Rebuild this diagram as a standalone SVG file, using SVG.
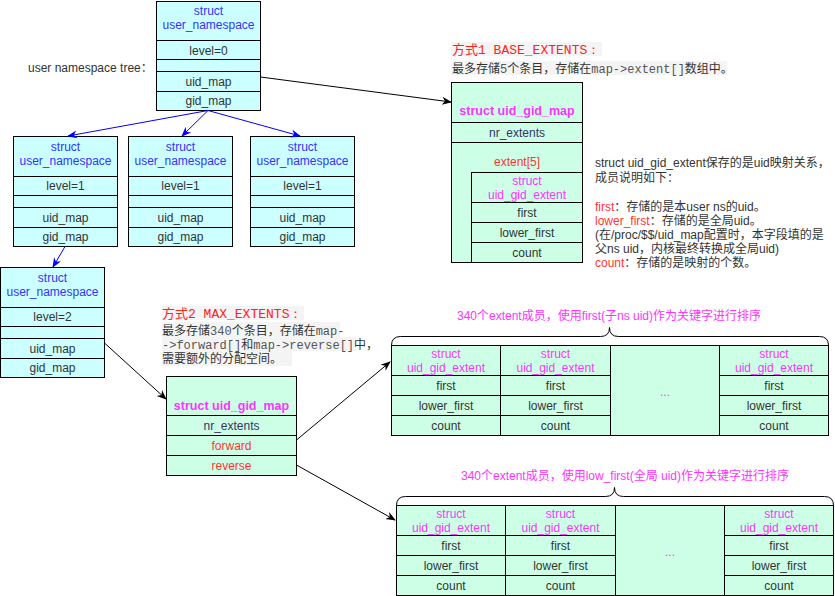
<svg xmlns="http://www.w3.org/2000/svg" width="835" height="596" viewBox="0 0 835 596">
<style>
text{font-family:"Liberation Sans","Noto Sans CJK SC",Arial,sans-serif;font-size:12px;fill:#333333}
.c{text-anchor:middle}
.ns{fill:#ccffff;stroke:#000;stroke-width:1}
.mp{fill:#ccffe6;stroke:#000;stroke-width:1}
.hb{fill:#3333ff}
.mg{fill:#ff33ff}
.rd{fill:#ff3333}
.nr{fill:#333366}
.b{font-weight:bold;font-size:12.5px}
.mono{font-family:"Liberation Mono","DejaVu Sans Mono",monospace}
.cb{fill:#f4f4f4}
.t{font-size:13px}
.ln{fill:none;stroke:#000;stroke-width:1}
.bl{fill:none;stroke:#0000ff;stroke-width:1}
.br{fill:none;stroke:#000;stroke-width:1}
</style>
<defs>
<marker id="ak" markerUnits="userSpaceOnUse" markerWidth="10" markerHeight="10" viewBox="0 0 10 10" refX="9" refY="5" orient="auto"><path d="M0,1 L10,5 L0,9 L3,5 z" fill="#000"/></marker>
<marker id="ab" markerUnits="userSpaceOnUse" markerWidth="10" markerHeight="10" viewBox="0 0 10 10" refX="9" refY="5" orient="auto"><path d="M0,1 L10,5 L0,9 L3,5 z" fill="#0000ff"/></marker>
</defs>

<text x="28" y="72">user namespace tree：</text>

<g id="ns0">
<rect class="ns" x="156.5" y="1.5" width="104" height="39"/>
<rect class="ns" x="156.5" y="40.5" width="104" height="19"/>
<rect class="ns" x="156.5" y="59.5" width="104" height="12"/>
<rect class="ns" x="156.5" y="71.5" width="104" height="20"/>
<rect class="ns" x="156.5" y="91.5" width="104" height="19"/>
<text class="c hb" x="208.5" y="15">struct</text>
<text class="c hb" x="208.5" y="29">user_namespace</text>
<text class="c" x="208.5" y="54.5">level=0</text>
<text class="c" x="208.5" y="85.5">uid_map</text>
<text class="c" x="208.5" y="105">gid_map</text>
</g>

<g id="ns1a">
<rect class="ns" x="13.5" y="136.5" width="104" height="40"/>
<rect class="ns" x="13.5" y="176.5" width="104" height="19"/>
<rect class="ns" x="13.5" y="195.5" width="104" height="12"/>
<rect class="ns" x="13.5" y="207.5" width="104" height="20"/>
<rect class="ns" x="13.5" y="227.5" width="104" height="19"/>
<text class="c hb" x="65.5" y="151">struct</text>
<text class="c hb" x="65.5" y="165">user_namespace</text>
<text class="c" x="65.5" y="190">level=1</text>
<text class="c" x="65.5" y="221.5">uid_map</text>
<text class="c" x="65.5" y="241">gid_map</text>
</g>

<g id="ns1b">
<rect class="ns" x="128.5" y="136.5" width="104" height="40"/>
<rect class="ns" x="128.5" y="176.5" width="104" height="19"/>
<rect class="ns" x="128.5" y="195.5" width="104" height="12"/>
<rect class="ns" x="128.5" y="207.5" width="104" height="20"/>
<rect class="ns" x="128.5" y="227.5" width="104" height="19"/>
<text class="c hb" x="180.5" y="151">struct</text>
<text class="c hb" x="180.5" y="165">user_namespace</text>
<text class="c" x="180.5" y="190">level=1</text>
<text class="c" x="180.5" y="221.5">uid_map</text>
<text class="c" x="180.5" y="241">gid_map</text>
</g>

<g id="ns1c">
<rect class="ns" x="250.5" y="136.5" width="104" height="40"/>
<rect class="ns" x="250.5" y="176.5" width="104" height="19"/>
<rect class="ns" x="250.5" y="195.5" width="104" height="12"/>
<rect class="ns" x="250.5" y="207.5" width="104" height="20"/>
<rect class="ns" x="250.5" y="227.5" width="104" height="19"/>
<text class="c hb" x="302.5" y="151">struct</text>
<text class="c hb" x="302.5" y="165">user_namespace</text>
<text class="c" x="302.5" y="190">level=1</text>
<text class="c" x="302.5" y="221.5">uid_map</text>
<text class="c" x="302.5" y="241">gid_map</text>
</g>

<g id="ns2">
<rect class="ns" x="0.5" y="267.5" width="104" height="40"/>
<rect class="ns" x="0.5" y="307.5" width="104" height="19"/>
<rect class="ns" x="0.5" y="326.5" width="104" height="12"/>
<rect class="ns" x="0.5" y="338.5" width="104" height="20"/>
<rect class="ns" x="0.5" y="358.5" width="104" height="19"/>
<text class="c hb" x="52.5" y="282">struct</text>
<text class="c hb" x="52.5" y="296">user_namespace</text>
<text class="c" x="52.5" y="321">level=2</text>
<text class="c" x="52.5" y="352.5">uid_map</text>
<text class="c" x="52.5" y="372">gid_map</text>
</g>

<g id="note1">
<rect class="cb" x="451" y="42" width="151" height="14"/>
<rect class="cb" x="451" y="61" width="276" height="14"/>
<text class="t" x="452" y="54" fill="#ff2222" style="fill:#ff2222">方式<tspan class="mono" style="fill:#ff2222">1 BASE_EXTENTS：</tspan></text>
<text x="452" y="72.5">最多存储<tspan class="mono" style="fill:#555">5</tspan>个条目，存储在<tspan class="mono" style="fill:#555">map-&gt;extent[]</tspan>数组中。</text>
</g>

<g id="map1">
<rect class="mp" x="451.5" y="82.5" width="131" height="40"/>
<rect class="mp" x="451.5" y="122.5" width="131" height="20"/>
<rect class="mp" x="451.5" y="142.5" width="131" height="120"/>
<text class="c mg b" x="517" y="114.5">struct uid_gid_map</text>
<text class="c nr" x="517" y="136.5">nr_extents</text>
<text class="c rd" x="517" y="165.5">extent[5]</text>
<g id="ext5">
<rect class="mp" x="471.5" y="172.5" width="111" height="30"/>
<rect class="mp" x="471.5" y="202.5" width="111" height="20"/>
<rect class="mp" x="471.5" y="222.5" width="111" height="20"/>
<rect class="mp" x="471.5" y="242.5" width="111" height="20"/>
<text class="c mg" x="527" y="185">struct</text>
<text class="c mg" x="527" y="199">uid_gid_extent</text>
<text class="c" x="527" y="216.5">first</text>
<text class="c" x="527" y="236.5">lower_first</text>
<text class="c" x="527" y="256.5">count</text>
</g>
</g>

<g id="desc">
<text x="595" y="167">struct uid_gid_extent保存的是uid映射关系，</text>
<text x="595" y="182">成员说明如下：</text>
<text x="595" y="210.5"><tspan class="rd">first</tspan>：存储的是本user ns的uid。</text>
<text x="595" y="225"><tspan class="rd">lower_first</tspan>：存储的是全局uid。</text>
<text x="595" y="239">(在/proc/$$/uid_map配置时，本字段填的是</text>
<text x="595" y="253">父ns uid，内核最终转换成全局uid)</text>
<text x="595" y="267"><tspan class="rd">count</tspan>：存储的是映射的个数。</text>
</g>

<g id="note2">
<rect class="cb" x="162" y="306" width="142" height="14"/>
<rect class="cb" x="162" y="322" width="178" height="15"/>
<rect class="cb" x="162" y="337" width="194" height="14"/>
<rect class="cb" x="162" y="351" width="130" height="15"/>
<text class="t" x="162" y="318" style="fill:#ff2222">方式<tspan class="mono" style="fill:#ff2222">2 MAX_EXTENTS：</tspan></text>
<text x="162" y="334.5">最多存储<tspan class="mono" style="fill:#555">340</tspan>个条目，存储在<tspan class="mono" style="fill:#555">map-</tspan></text>
<text x="162" y="348.5"><tspan class="mono" style="fill:#555">-&gt;forward[]</tspan>和<tspan class="mono" style="fill:#555">map-&gt;reverse[]</tspan>中，</text>
<text x="162" y="363">需要额外的分配空间。</text>
</g>

<g id="map2">
<rect class="mp" x="166.5" y="376.5" width="130" height="39"/>
<rect class="mp" x="166.5" y="415.5" width="130" height="20"/>
<rect class="mp" x="166.5" y="435.5" width="130" height="20"/>
<rect class="mp" x="166.5" y="455.5" width="130" height="20"/>
<text class="c mg b" x="231.5" y="409.5">struct uid_gid_map</text>
<text class="c nr" x="231.5" y="429.5">nr_extents</text>
<text class="c rd" x="231.5" y="449.5">forward</text>
<text class="c rd" x="231.5" y="469.5">reverse</text>
</g>

<g id="forwardArray">
<text class="c mg" x="609" y="320">340个extent成员，使用first(子ns uid)作为关键字进行排序</text>
<path class="br" d="M391.5,345.5 Q391.5,336.5 400.5,336.5 L600.5,336.5 Q609.5,336.5 609.5,327.5 Q609.5,336.5 618.5,336.5 L819.5,336.5 Q828.5,336.5 828.5,345.5"/>
<g id="f1">
<rect class="mp" x="391.5" y="345.5" width="109" height="30"/>
<rect class="mp" x="391.5" y="375.5" width="109" height="20"/>
<rect class="mp" x="391.5" y="395.5" width="109" height="20"/>
<rect class="mp" x="391.5" y="415.5" width="109" height="20"/>
<text class="c mg" x="446" y="358">struct</text>
<text class="c mg" x="446" y="372">uid_gid_extent</text>
<text class="c" x="446" y="389.5">first</text>
<text class="c" x="446" y="409.5">lower_first</text>
<text class="c" x="446" y="429.5">count</text>
</g>
<g id="f2">
<rect class="mp" x="500.5" y="345.5" width="110" height="30"/>
<rect class="mp" x="500.5" y="375.5" width="110" height="20"/>
<rect class="mp" x="500.5" y="395.5" width="110" height="20"/>
<rect class="mp" x="500.5" y="415.5" width="110" height="20"/>
<text class="c mg" x="555.5" y="358">struct</text>
<text class="c mg" x="555.5" y="372">uid_gid_extent</text>
<text class="c" x="555.5" y="389.5">first</text>
<text class="c" x="555.5" y="409.5">lower_first</text>
<text class="c" x="555.5" y="429.5">count</text>
</g>
<g id="f3">
<rect class="mp" x="610.5" y="345.5" width="109" height="90"/>
<text class="c mg" x="665" y="396">...</text>
</g>
<g id="f4">
<rect class="mp" x="719.5" y="345.5" width="109" height="30"/>
<rect class="mp" x="719.5" y="375.5" width="109" height="20"/>
<rect class="mp" x="719.5" y="395.5" width="109" height="20"/>
<rect class="mp" x="719.5" y="415.5" width="109" height="20"/>
<text class="c mg" x="774" y="358">struct</text>
<text class="c mg" x="774" y="372">uid_gid_extent</text>
<text class="c" x="774" y="389.5">first</text>
<text class="c" x="774" y="409.5">lower_first</text>
<text class="c" x="774" y="429.5">count</text>
</g>
</g>

<g id="reverseArray">
<text class="c mg" x="625" y="480">340个extent成员，使用low_first(全局 uid)作为关键字进行排序</text>
<path class="br" d="M396.5,505.5 Q396.5,496.5 405.5,496.5 L605.5,496.5 Q614.5,496.5 614.5,487.5 Q614.5,496.5 623.5,496.5 L824.5,496.5 Q833.5,496.5 833.5,505.5"/>
<g id="r1">
<rect class="mp" x="396.5" y="505.5" width="109" height="30"/>
<rect class="mp" x="396.5" y="535.5" width="109" height="20"/>
<rect class="mp" x="396.5" y="555.5" width="109" height="20"/>
<rect class="mp" x="396.5" y="575.5" width="109" height="20"/>
<text class="c mg" x="451" y="518">struct</text>
<text class="c mg" x="451" y="532">uid_gid_extent</text>
<text class="c" x="451" y="549.5">first</text>
<text class="c" x="451" y="569.5">lower_first</text>
<text class="c" x="451" y="589.5">count</text>
</g>
<g id="r2">
<rect class="mp" x="505.5" y="505.5" width="110" height="30"/>
<rect class="mp" x="505.5" y="535.5" width="110" height="20"/>
<rect class="mp" x="505.5" y="555.5" width="110" height="20"/>
<rect class="mp" x="505.5" y="575.5" width="110" height="20"/>
<text class="c mg" x="560.5" y="518">struct</text>
<text class="c mg" x="560.5" y="532">uid_gid_extent</text>
<text class="c" x="560.5" y="549.5">first</text>
<text class="c" x="560.5" y="569.5">lower_first</text>
<text class="c" x="560.5" y="589.5">count</text>
</g>
<g id="r3">
<rect class="mp" x="615.5" y="505.5" width="109" height="90"/>
<text class="c mg" x="670" y="556">...</text>
</g>
<g id="r4">
<rect class="mp" x="724.5" y="505.5" width="109" height="30"/>
<rect class="mp" x="724.5" y="535.5" width="109" height="20"/>
<rect class="mp" x="724.5" y="555.5" width="109" height="20"/>
<rect class="mp" x="724.5" y="575.5" width="109" height="20"/>
<text class="c mg" x="779" y="518">struct</text>
<text class="c mg" x="779" y="532">uid_gid_extent</text>
<text class="c" x="779" y="549.5">first</text>
<text class="c" x="779" y="569.5">lower_first</text>
<text class="c" x="779" y="589.5">count</text>
</g>
</g>

<g id="connectors">
<line class="bl" x1="208" y1="110.5" x2="68" y2="136" marker-end="url(#ab)"/>
<line class="bl" x1="208" y1="110.5" x2="182" y2="136" marker-end="url(#ab)"/>
<line class="bl" x1="208" y1="110.5" x2="300" y2="136" marker-end="url(#ab)"/>
<line class="bl" x1="65" y1="246.5" x2="53" y2="267" marker-end="url(#ab)"/>
<line class="ln" x1="260.5" y1="77" x2="451" y2="102" marker-end="url(#ak)"/>
<line class="ln" x1="104.5" y1="343" x2="166" y2="399" marker-end="url(#ak)"/>
<line class="ln" x1="296.5" y1="440" x2="390" y2="362" marker-end="url(#ak)"/>
<line class="ln" x1="296.5" y1="465" x2="395" y2="520" marker-end="url(#ak)"/>
</g>
</svg>
